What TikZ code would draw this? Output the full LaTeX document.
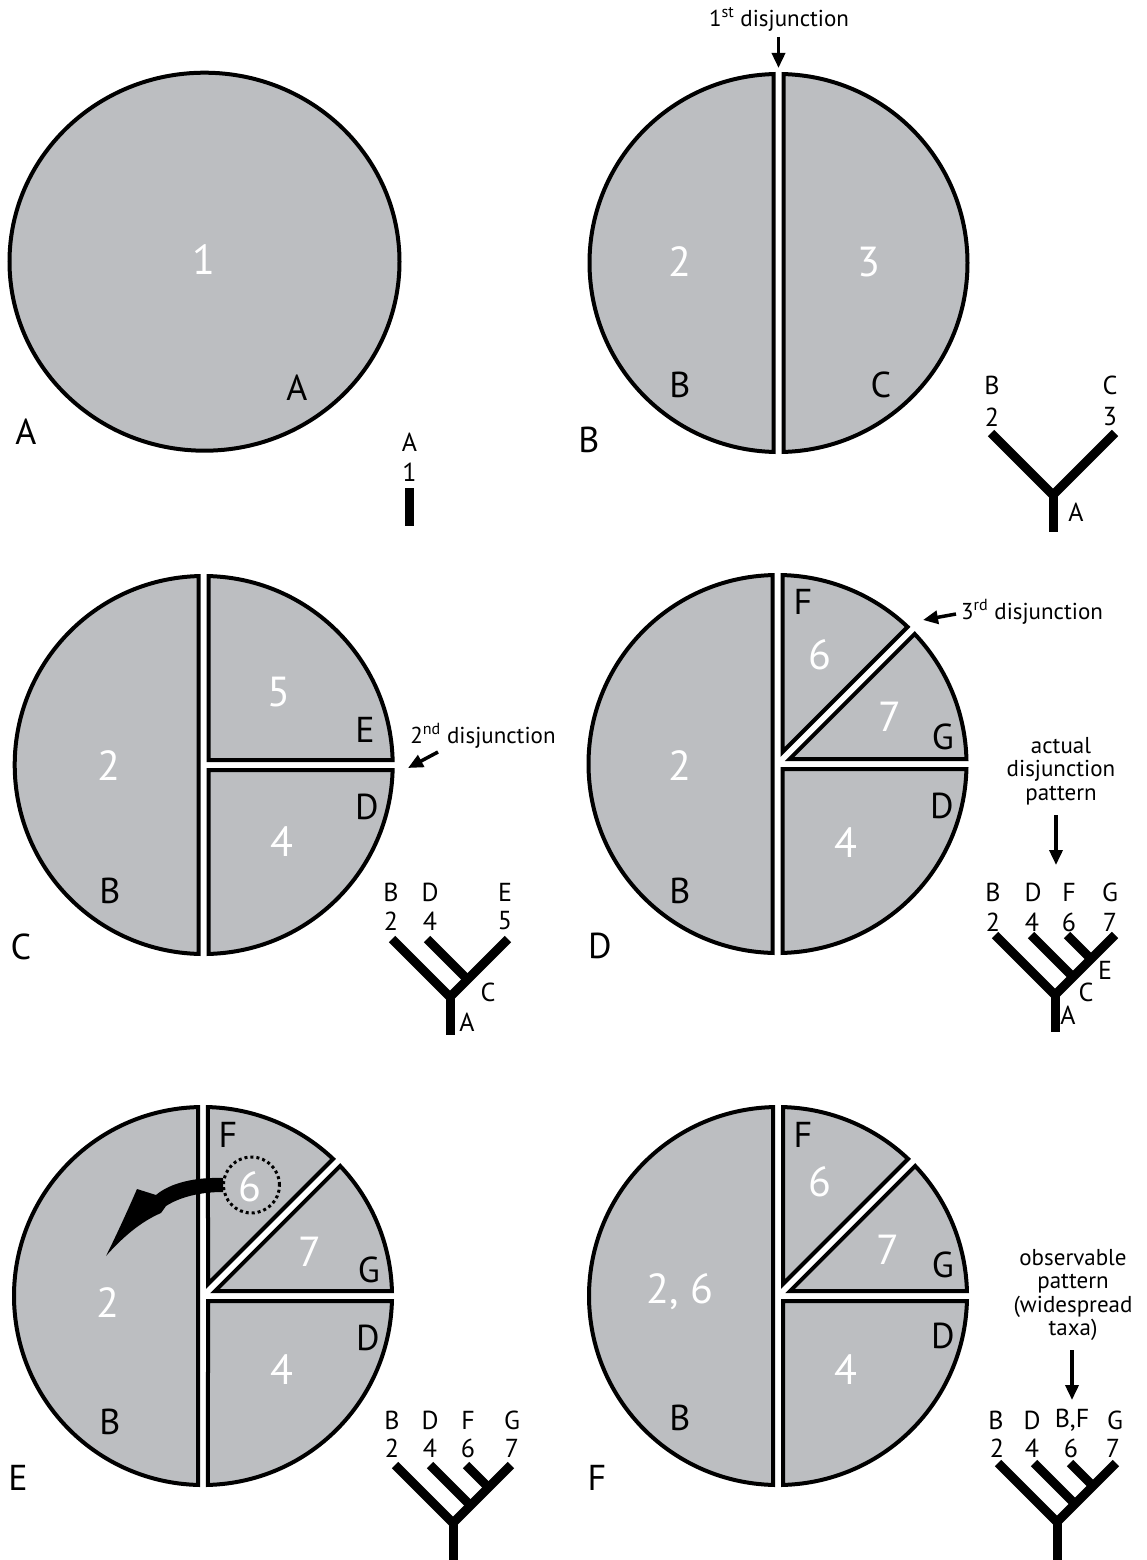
\documentclass[tikz,border=0pt]{standalone}
\usepackage{fontspec}
\setmainfont{PT Sans}
\usetikzlibrary{arrows.meta}
\definecolor{regiongray}{RGB}{188,190,193}

% radius of every split region, half of the white gap between pieces
\def\pieceR{189}
\def\halfgap{5}
\pgfmathsetmacro\gapang{asin(\halfgap/\pieceR)}

% one exploded piece of the region between angles #1 and #2 (scope is centred on the region)
\newcommand\wedgepiece[2]{%
  \pgfmathsetmacro\wa{#1+\gapang}%
  \pgfmathsetmacro\wb{#2-\gapang}%
  \pgfmathsetmacro\wm{(#1+#2)/2}%
  \pgfmathsetmacro\wr{\halfgap/sin((#2-#1)/2)}%
  \filldraw[piece] (\wm:\wr) -- (\wa:\pieceR) arc[start angle=\wa, end angle=\wb, radius=\pieceR] -- cycle;%
}

\tikzset{
  piece/.style={fill=regiongray, draw=black, line width=4pt, line join=miter},
  dig/.style={text=white, font=\fontsize{42}{42}\selectfont, inner sep=0pt},
  lab/.style={text=black, font=\fontsize{36}{36}\selectfont, inner sep=0pt},
  tiplab/.style={font=\fontsize{26}{26}\selectfont, inner sep=0pt},
  note/.style={font=\fontsize{23}{23.5}\selectfont, inner sep=0pt, align=center},
  branch/.style={line width=9pt, line cap=butt, line join=miter},
  pointer/.style={line width=3.5pt, -{Triangle[length=15pt,width=13pt]}},
  ringnode/.style={circle, draw, minimum size=56pt, inner sep=0pt, line width=3pt, dash pattern=on 3pt off 3pt},
}

\begin{document}
\begin{tikzpicture}[x=1pt,y=1pt]
\useasboundingbox (0,0) rectangle (1146,-1560);
\fill[white] (0,0) rectangle (1146,-1560);

% ---------------- panel A ----------------
\filldraw[piece] (204.5,-261.7) ellipse [x radius=195, y radius=189];
\node[dig] (a1) at (204,-260) {1};
\node[lab] (aA) at (297,-388) {A};
\node[lab] (pA) at (26,-432) {A};
\node[tiplab] (taA) at (409.5,-442) {A};
\node[tiplab] (ta1) at (409.5,-472) {1};
\coordinate (taTop) at (409.5,-488);
\coordinate (taBot) at (409.5,-526);
\draw[branch] (taTop) -- (taBot);

% ---------------- panel B ----------------
\begin{scope}[shift={(778.5,-263)}]
  \wedgepiece{90}{270}
  \wedgepiece{-90}{90}
\end{scope}
\node[dig] (b2) at (680,-262) {2};
\node[dig] (b3) at (869,-262) {3};
\node[lab] (bB) at (680,-385) {B};
\node[lab] (bC) at (881,-385) {C};
\node[lab] (pB) at (589,-440) {B};
\node[note] (n1) at (779,-19) {1\textsuperscript{st} disjunction};
\coordinate (n1s) at (778.5,-37);
\coordinate (n1t) at (778.5,-68);
\draw[pointer] (n1s) -- (n1t);
% tree
\coordinate (tbJ) at (1053,-495);
\coordinate (tbL) at (991,-433);
\coordinate (tbR) at (1115,-433);
\coordinate (tbS) at (1053,-532);
\draw[branch] (tbL) -- (tbJ) -- (tbR);
\draw[branch] (tbJ) -- (tbS);
\node[tiplab] (tbB) at (992,-385) {B};
\node[tiplab] (tbC) at (1110,-385) {C};
\node[tiplab] (tb2) at (992,-417) {2};
\node[tiplab] (tb3) at (1110,-417) {3};
\node[tiplab] (tbA) at (1076,-512) {A};

% ---------------- panel C ----------------
\begin{scope}[shift={(203.7,-765)}]
  \wedgepiece{90}{270}
  \wedgepiece{0}{90}
  \wedgepiece{270}{360}
\end{scope}
\node[dig] (c2) at (109,-766) {2};
\node[lab] (cB) at (110,-891) {B};
\node[dig] (c5) at (279,-692) {5};
\node[lab] (cE) at (365,-730) {E};
\node[dig] (c4) at (282,-842) {4};
\node[lab] (cD) at (367,-807) {D};
\node[lab] (pC) at (21,-947) {C};
\node[note] (n2) at (483,-736) {2\textsuperscript{nd} disjunction};
\coordinate (n2s) at (438,-752);
\coordinate (n2t) at (408,-768);
\draw[pointer] (n2s) -- (n2t);
% tree
\coordinate (tcJ) at (450,-997);
\coordinate (tcL) at (392,-939);
\coordinate (tcR) at (508,-939);
\coordinate (tcD) at (427,-939);
\coordinate (tcDj) at (467.5,-979.5);
\coordinate (tcS) at (450,-1035);
\draw[branch] (tcL) -- (tcJ) -- (tcR);
\draw[branch] (tcJ) -- (tcS);
\draw[branch] (tcD) -- (tcDj);
\node[tiplab] (tcB) at (391,-892) {B};
\node[tiplab] (tcDl) at (430,-892) {D};
\node[tiplab] (tcE) at (505,-892) {E};
\node[tiplab] (tc2) at (391,-921) {2};
\node[tiplab] (tc4) at (430,-921) {4};
\node[tiplab] (tc5) at (505,-921) {5};
\node[tiplab] (tcC) at (488,-992) {C};
\node[tiplab] (tcA) at (467,-1022) {A};

% ---------------- panel D ----------------
\begin{scope}[shift={(777.5,-764)}]
  \wedgepiece{90}{270}
  \wedgepiece{45}{90}
  \wedgepiece{0}{45}
  \wedgepiece{270}{360}
\end{scope}
\node[lab] (dF) at (803,-602) {F};
\node[dig] (d6) at (820,-655) {6};
\node[dig] (d7) at (890,-717) {7};
\node[lab] (dG) at (943,-737) {G};
\node[lab] (dD) at (942,-806) {D};
\node[dig] (d4) at (846,-843) {4};
\node[dig] (d2) at (680,-766) {2};
\node[lab] (dB) at (680,-891) {B};
\node[lab] (pD) at (600,-946) {D};
\node[note] (n3) at (1032,-612) {3\textsuperscript{rd} disjunction};
\coordinate (n3s) at (956,-614);
\coordinate (n3t) at (923,-620);
\draw[pointer] (n3s) -- (n3t);
\node[note] (nact) at (1061,-771) {actual\\disjunction\\pattern};
\coordinate (nacts) at (1056,-815);
\coordinate (nactt) at (1056,-865);
\draw[pointer] (nacts) -- (nactt);
% tree
\coordinate (tdJ) at (1055,-995);
\coordinate (tdL) at (995,-935);
\coordinate (tdR) at (1115,-935);
\coordinate (tdD) at (1031,-935);
\coordinate (tdDj) at (1073,-977);
\coordinate (tdF) at (1067,-935);
\coordinate (tdFj) at (1091,-959);
\coordinate (tdS) at (1055,-1032);
\draw[branch] (tdL) -- (tdJ) -- (tdR);
\draw[branch] (tdJ) -- (tdS);
\draw[branch] (tdD) -- (tdDj);
\draw[branch] (tdF) -- (tdFj);
\node[tiplab] (tdB) at (993,-892) {B};
\node[tiplab] (tdDl) at (1033,-892) {D};
\node[tiplab] (tdFl) at (1069,-892) {F};
\node[tiplab] (tdG) at (1110,-892) {G};
\node[tiplab] (td2) at (993,-922) {2};
\node[tiplab] (td4) at (1032,-922) {4};
\node[tiplab] (td6) at (1069,-922) {6};
\node[tiplab] (td7) at (1110,-922) {7};
\node[tiplab] (tdE) at (1105,-970) {E};
\node[tiplab] (tdC) at (1086,-992) {C};
\node[tiplab] (tdA) at (1068,-1015) {A};

% ---------------- panel E ----------------
\begin{scope}[shift={(203,-1296)}]
  \wedgepiece{90}{270}
  \wedgepiece{45}{90}
  \wedgepiece{0}{45}
  \wedgepiece{270}{360}
\end{scope}
\node[lab] (eF) at (228,-1135) {F};
\node[dig] (e6) at (250,-1187) {6};
\node[ringnode] (ring) at (251.5,-1185) {};
\node[dig] (e7) at (310,-1252) {7};
\node[lab] (eG) at (369,-1270) {G};
\node[lab] (eD) at (368,-1338) {D};
\node[dig] (e4) at (282,-1370) {4};
\node[dig] (e2) at (108,-1303) {2};
\node[lab] (eB) at (110,-1422) {B};
\node[lab] (pE) at (18,-1478) {E};
% dispersal arrow from region 6 into region 2
\fill (223,-1178) .. controls (195,-1177) and (170,-1183) .. (156,-1195)
  -- (137,-1189) .. controls (127,-1212) and (116,-1236) .. (106,-1256)
  .. controls (122,-1238) and (140,-1222) .. (161,-1213)
  -- (166,-1206) .. controls (180,-1197) and (200,-1192) .. (223,-1192) -- cycle;
% tree
\coordinate (teJ) at (453,-1523);
\coordinate (teL) at (395,-1465);
\coordinate (teR) at (511,-1465);
\coordinate (teD) at (430,-1465);
\coordinate (teDj) at (470.5,-1505.5);
\coordinate (teF) at (466,-1465);
\coordinate (teFj) at (488.5,-1487.5);
\coordinate (teS) at (453,-1565);
\draw[branch] (teL) -- (teJ) -- (teR);
\draw[branch] (teJ) -- (teS);
\draw[branch] (teD) -- (teDj);
\draw[branch] (teF) -- (teFj);
\node[tiplab] (teB) at (392,-1420) {B};
\node[tiplab] (teDl) at (430,-1420) {D};
\node[tiplab] (teFl) at (468,-1420) {F};
\node[tiplab] (teG) at (512,-1420) {G};
\node[tiplab] (te2) at (392,-1448) {2};
\node[tiplab] (te4) at (430,-1448) {4};
\node[tiplab] (te6) at (468,-1448) {6};
\node[tiplab] (te7) at (512,-1448) {7};

% ---------------- panel F ----------------
\begin{scope}[shift={(778,-1296)}]
  \wedgepiece{90}{270}
  \wedgepiece{45}{90}
  \wedgepiece{0}{45}
  \wedgepiece{270}{360}
\end{scope}
\node[lab] (fF) at (803,-1135) {F};
\node[dig] (f6) at (820,-1182) {6};
\node[dig] (f7) at (888,-1250) {7};
\node[lab] (fG) at (943,-1265) {G};
\node[lab] (fD) at (943,-1336) {D};
\node[dig] (f4) at (846,-1370) {4};
\node[dig] (f26) at (680,-1292) {2, 6};
\node[lab] (fB) at (680,-1418) {B};
\node[lab] (pF) at (597,-1478) {F};
\node[note] (nobs) at (1073,-1295) {observable\\pattern\\(widespread\\taxa)};
\coordinate (nobss) at (1072,-1350);
\coordinate (nobst) at (1072,-1400);
\draw[pointer] (nobss) -- (nobst);
% tree
\coordinate (tfJ) at (1057,-1522);
\coordinate (tfL) at (998,-1463);
\coordinate (tfR) at (1116,-1463);
\coordinate (tfD) at (1034,-1463);
\coordinate (tfDj) at (1075,-1504);
\coordinate (tfF) at (1070,-1463);
\coordinate (tfFj) at (1093,-1486);
\coordinate (tfS) at (1057,-1565);
\draw[branch] (tfL) -- (tfJ) -- (tfR);
\draw[branch] (tfJ) -- (tfS);
\draw[branch] (tfD) -- (tfDj);
\draw[branch] (tfF) -- (tfFj);
\node[tiplab] (tfB) at (996,-1420) {B};
\node[tiplab] (tfDl) at (1032,-1420) {D};
\node[tiplab] (tfBF) at (1072,-1420) {B,F};
\node[tiplab] (tfG) at (1115,-1420) {G};
\node[tiplab] (tf2) at (997,-1448) {2};
\node[tiplab] (tf4) at (1032,-1448) {4};
\node[tiplab] (tf6) at (1071,-1448) {6};
\node[tiplab] (tf7) at (1113,-1448) {7};
\end{tikzpicture}
\end{document}
